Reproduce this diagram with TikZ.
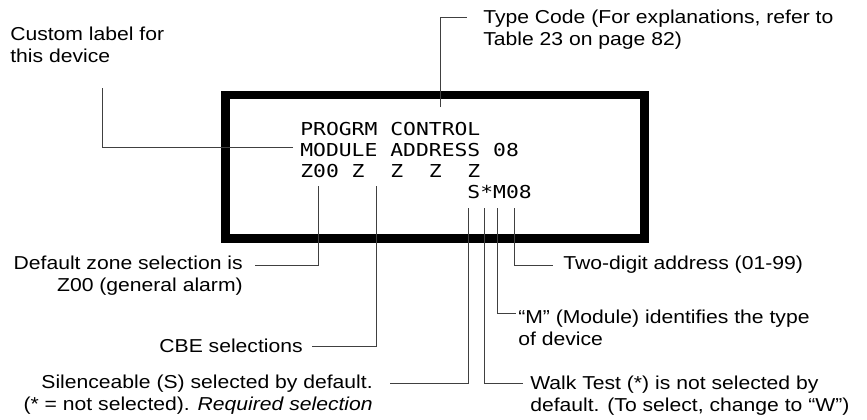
\documentclass[tikz,border=0pt]{standalone}
\usepackage{fontspec}
\setmainfont{Liberation Sans}[FakeStretch=1.13]
\newfontfamily\lcdfont{DejaVu Sans Mono}[FakeStretch=1.2]
\usetikzlibrary{calc}

\begin{document}
\begin{tikzpicture}[
    x=0.025cm, y=-0.025cm,
    note/.style={inner sep=0pt, font=\fontsize{13.3}{15.3}\selectfont},
    lcd/.style={inner sep=0pt, align=left, font=\lcdfont\fontsize{12.66}{14.9}\selectfont},
    lead/.style={line width=0.7pt, black!75}
]
    \useasboundingbox (0,0) rectangle (867,420);

    % display frame and its text
    \draw[line width=6.4pt] (225.5,95) rectangle (644.5,238);
    \node[lcd, anchor=north west] (screen) at (300,122)
        {PROGRM~CONTROL\\MODULE~ADDRESS~08\\Z00~Z~~Z~~Z~~Z\\\hphantom{Z00~Z~~Z~~Z~~}S*M08};

    % points on the display
    \coordinate (cname) at (293,147);
    \coordinate (ctype) at (440,107);
    \coordinate (czone) at (318,186);
    \coordinate (ccbe) at (376,186);
    \coordinate (csil) at (468,208);
    \coordinate (cwalk) at (484,208);
    \coordinate (cmod) at (497,208);
    \coordinate (caddr) at (514,208);

    % labels
    \node[note, anchor=north west, align=left] (custom) at (10,27) {Custom label for\\this device};
    \node[note, anchor=north west, align=left] (type) at (483,10) {Type Code (For explanations, refer to\\Table 23 on page 82)};
    \node[note, anchor=north east, align=right] (zone) at (243,256) {Default zone selection is\\Z00 (general alarm)};
    \node[note, anchor=east] (cbe) at (303,346) {CBE selections};
    \node[note, anchor=north east, align=right] (silence) at (373,375) {Silenceable (S) selected by default.\\(* = not selected). \textit{Required selection}};
    \node[note, anchor=west] (addr) at (563,265) {Two-digit address (01-99)};
    \node[note, anchor=north west, align=left] (module) at (518,310) {``M'' (Module) identifies the type\\of device};
    \node[note, anchor=north west, align=left] (walk) at (530,376) {Walk Test (*) is not selected by\\default. (To select, change to ``W'')};

    % leaders
    \draw[lead] (cname) -| ($(custom.south west)+(92,25)$);
    \draw[lead] (ctype) |- ($(type.north west)+(-16,7)$);
    \draw[lead] (czone) |- ($(zone.north east)+(12,9)$);
    \draw[lead] (ccbe) |- ($(cbe.east)+(9,0)$);
    \draw[lead] (csil) |- ($(silence.north east)+(17,8)$);
    \draw[lead] (cwalk) |- ($(walk.north west)+(-7,7)$);
    \draw[lead] (cmod) |- ($(module.north west)+(-2,3)$);
    \draw[lead] (caddr) |- ($(addr.west)+(-10,0)$);
\end{tikzpicture}
\end{document}
